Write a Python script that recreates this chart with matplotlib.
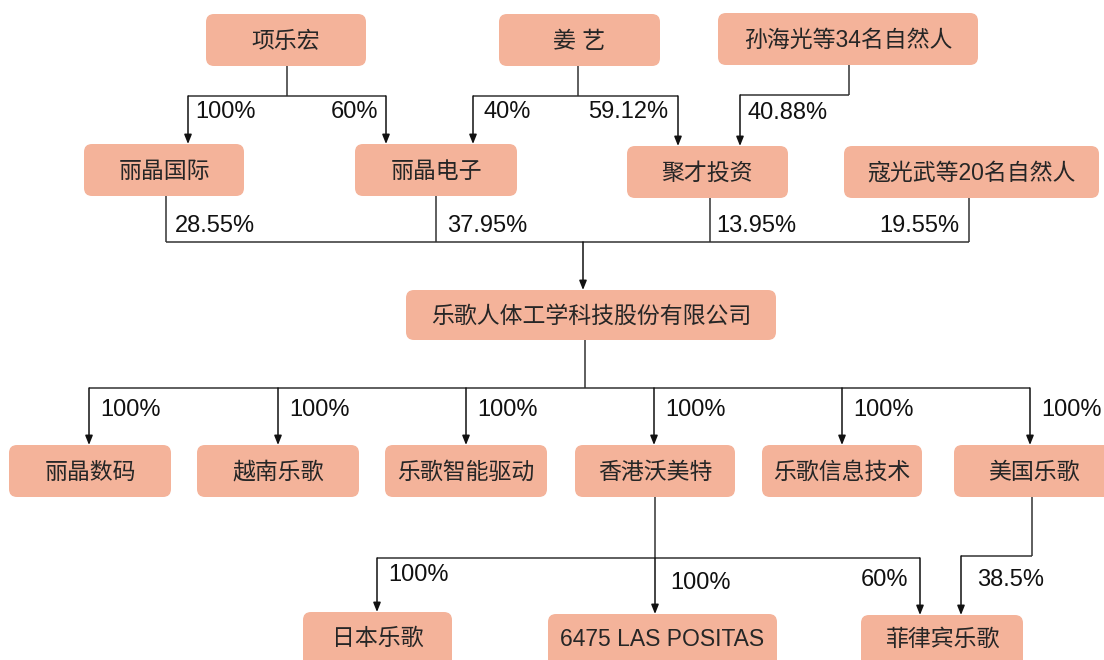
import matplotlib
matplotlib.use("Agg")
import matplotlib.pyplot as plt
from matplotlib.patches import FancyBboxPatch

plt.rcParams['font.family'] = ['Liberation Sans', 'Noto Sans CJK SC', 'DejaVu Sans']

# --- data: names and shareholdings ---
top_holders = ["项乐宏", "姜 艺", "孙海光等34名自然人"]
mid_holders = ["丽晶国际", "丽晶电子", "聚才投资", "寇光武等20名自然人"]
company = "乐歌人体工学科技股份有限公司"
subsidiaries = ["丽晶数码", "越南乐歌", "乐歌智能驱动", "香港沃美特", "乐歌信息技术", "美国乐歌"]
sub_pct = ["100%", "100%", "100%", "100%", "100%", "100%"]
second_subs = ["日本乐歌", "6475 LAS POSITAS", "菲律宾乐歌"]

# 项乐宏 -> 丽晶国际 / 丽晶电子 ; 姜艺 -> 丽晶电子 / 聚才投资 ; 孙海光 -> 聚才投资
xiang_pct = ["100%", "60%"]
jiang_pct = ["40%", "59.12%"]
sun_pct = "40.88%"
mid_pct = ["28.55%", "37.95%", "13.95%", "19.55%"]
hk_pct = ["100%", "100%", "60%"]
us_pct = "38.5%"

# --- layout (pixel coords, y down) ---
BOX = "#F4B39A"
TXT = "#262626"
FS = 16.5
PFS = 17

top_boxes = [(206, 14, 366, 66), (499, 14, 660, 66), (718, 13, 978, 65)]
mid_boxes = [(84, 144, 244, 196), (355, 144, 517, 196), (627, 146, 788, 198), (844, 146, 1099, 198)]
comp_box = (406, 290, 776, 340)
sub_boxes = [(9, 445, 171, 497), (197, 445, 359, 497), (385, 445, 547, 497),
             (575, 445, 735, 497), (762, 445, 922, 497), (954, 445, 1114, 497)]
sec_boxes = [(303, 612, 452, 672), (548, 614, 777, 672), (861, 615, 1023, 672)]

fig = plt.figure(figsize=(11.04, 6.6), dpi=100)
ax = fig.add_axes([0, 0, 1, 1])
ax.set_xlim(0, 1104)
ax.set_ylim(660, 0)
ax.axis("off")


def box(b, label, dy=1):
    x0, y0, x1, y1 = b
    ax.add_patch(FancyBboxPatch((x0, y0), x1 - x0, y1 - y0,
                                boxstyle="round,pad=0,rounding_size=8",
                                fc=BOX, ec="none", zorder=2))
    ax.text((x0 + x1) / 2, (y0 + y1) / 2 + dy, label, ha="center", va="center",
            fontsize=FS, color=TXT, zorder=3)


def line(xs, ys):
    ax.plot(xs, ys, color="#333333", lw=1.1, solid_capstyle="butt", zorder=1)


def arrow(x, y0, y1):
    ax.annotate("", xy=(x, y1), xytext=(x, y0),
                arrowprops=dict(arrowstyle="-|>,head_length=0.55,head_width=0.22",
                                color="#111111", lw=1.1, shrinkA=0, shrinkB=0), zorder=1)


def pct(x, y, s, ha="left"):
    ax.text(x, y, s, ha=ha, va="center", fontsize=PFS, color="#111111")


for b, n in zip(top_boxes, top_holders):
    box(b, n)
for b, n in zip(mid_boxes, mid_holders):
    box(b, n)
box(comp_box, company)
for b, n in zip(sub_boxes, subsidiaries):
    box(b, n)
# bottom row is cut by the image edge, text sits near the visible centre
for b, n in zip(sec_boxes, second_subs):
    box(b, n, dy=-4)

# 项乐宏
line([287, 287], [66, 96])
line([188, 386], [96, 96])
arrow(188, 96, 144)
arrow(386, 96, 144)
pct(195, 112, xiang_pct[0])
pct(378, 112, xiang_pct[1], ha="right")

# 姜艺
line([578, 578], [66, 96])
line([473, 678], [96, 96])
arrow(473, 96, 144)
arrow(678, 96, 146)
pct(483, 112, jiang_pct[0])
pct(668, 112, jiang_pct[1], ha="right")

# 孙海光
line([849, 849], [65, 95])
line([740, 849], [95, 95])
arrow(740, 95, 146)
pct(748, 113, sun_pct)

# shareholders -> company
mid_x = [166, 436, 710, 969]
for x, b in zip(mid_x, mid_boxes):
    line([x, x], [b[3], 242])
line([mid_x[0], mid_x[-1]], [242, 242])
arrow(583, 242, 290)
pct(175, 226, mid_pct[0])
pct(447, 226, mid_pct[1])
pct(716, 226, mid_pct[2])
pct(959, 226, mid_pct[3], ha="right")

# company -> subsidiaries
sub_x = [89, 278, 466, 654, 842, 1030]
line([585, 585], [340, 388])
line([sub_x[0], sub_x[-1]], [388, 388])
for x, p in zip(sub_x, sub_pct):
    arrow(x, 388, 445)
    pct(x + 11, 410, p)

# 香港沃美特 -> second level
line([655, 655], [497, 558])
line([377, 920], [558, 558])
arrow(377, 558, 612)
arrow(655, 558, 614)
arrow(920, 558, 615)
pct(388, 575, hk_pct[0])
pct(670, 583, hk_pct[1])
pct(908, 580, hk_pct[2], ha="right")

# 美国乐歌 -> 菲律宾乐歌
line([1032, 1032], [497, 556])
line([961, 1032], [556, 556])
arrow(961, 556, 615)
pct(977, 580, us_pct)

fig.savefig("out.png", dpi=100, facecolor="white")
